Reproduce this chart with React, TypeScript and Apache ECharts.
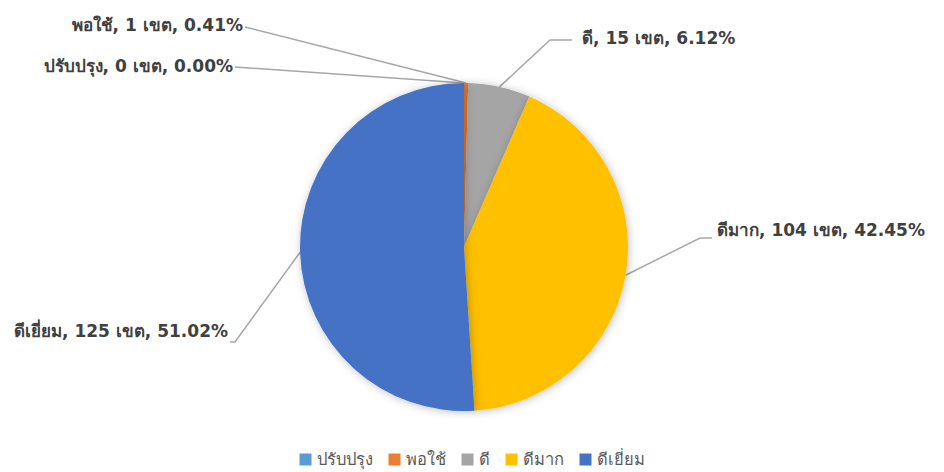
import React, { useEffect, useRef } from "react";
import * as echarts from "echarts";

const categories = ["ปรับปรุง", "พอใช้", "ดี", "ดีมาก", "ดีเยี่ยม"];
const counts = [0, 1, 15, 104, 125];
const colors = ["#5B9BD5", "#ED7D31", "#A5A5A5", "#FFC000", "#4472C4"];
const unit = "เขต";

// label layout (page coords): text anchor x, y, align, elbow point, line end
const labelPlacement = [
  { x: 233, y: 66, align: "right", elbow: null, end: [235, 67] },
  { x: 243, y: 25, align: "right", elbow: null, end: [245, 27] },
  { x: 582, y: 38, align: "left", elbow: [550, 40], end: [572, 40] },
  { x: 717, y: 230, align: "left", elbow: [700, 238], end: [712, 238] },
  { x: 228, y: 331, align: "right", elbow: [235, 342], end: [230, 342] },
];

const CX = 464;
const CY = 247;
const R = 164;
const FONT = "'DejaVu Sans', Tahoma, sans-serif";

export default function App() {
  const ref = useRef<HTMLDivElement>(null);
  useEffect(() => {
    if (!ref.current) return;
    const chart = echarts.init(ref.current, null, { renderer: "svg" });
    const total = counts.reduce((a, b) => a + b, 0);
    const cum: number[] = [];
    let acc = 0;
    counts.forEach((v) => {
      cum.push(acc + v / 2);
      acc += v;
    });
    chart.setOption({
      animation: false,
      backgroundColor: "#ffffff",
      color: colors,
      legend: {
        bottom: -1,
        left: "center",
        itemWidth: 12,
        itemHeight: 12,
        itemGap: 16,
        icon: "rect",
        textStyle: { fontSize: 16.5, color: "#595959", fontFamily: FONT },
        data: categories,
      },
      series: [
        {
          type: "pie",
          center: [CX, CY],
          radius: R,
          startAngle: 90,
          clockwise: true,
          avoidLabelOverlap: false,
          stillShowZeroSum: true,
          itemStyle: {
            shadowBlur: 8,
            shadowColor: "rgba(0,0,0,0.25)",
            shadowOffsetX: 1,
            shadowOffsetY: 1,
          },
          label: {
            show: true,
            position: "outside",
            fontSize: 17,
            fontWeight: "bold",
            color: "#404040",
            fontFamily: FONT,
            formatter: (p: any) =>
              `${p.name}, ${p.value} ${unit}, ${((p.value / total) * 100).toFixed(2)}%`,
          },
          labelLine: {
            show: true,
            lineStyle: { color: "#A6A6A6", width: 1.5 },
          },
          emphasis: { disabled: true },
          labelLayout: (params: any) => {
            const i = params.dataIndex;
            const pl = labelPlacement[i];
            const ang = (cum[i] / total) * Math.PI * 2;
            const start = [CX + R * Math.sin(ang), CY - R * Math.cos(ang)];
            const pts = pl.elbow ? [start, pl.elbow, pl.end] : [start, pl.end, pl.end];
            return {
              x: pl.x,
              y: pl.y,
              align: pl.align,
              verticalAlign: "middle",
              labelLinePoints: pts,
            };
          },
          data: categories.map((c, i) => ({ name: c, value: counts[i] })),
        },
      ],
    });
    return () => chart.dispose();
  }, []);
  return (
    <div
      ref={ref}
      style={{ position: "fixed", left: 0, top: 0, width: 944, height: 472 }}
    />
  );
}
